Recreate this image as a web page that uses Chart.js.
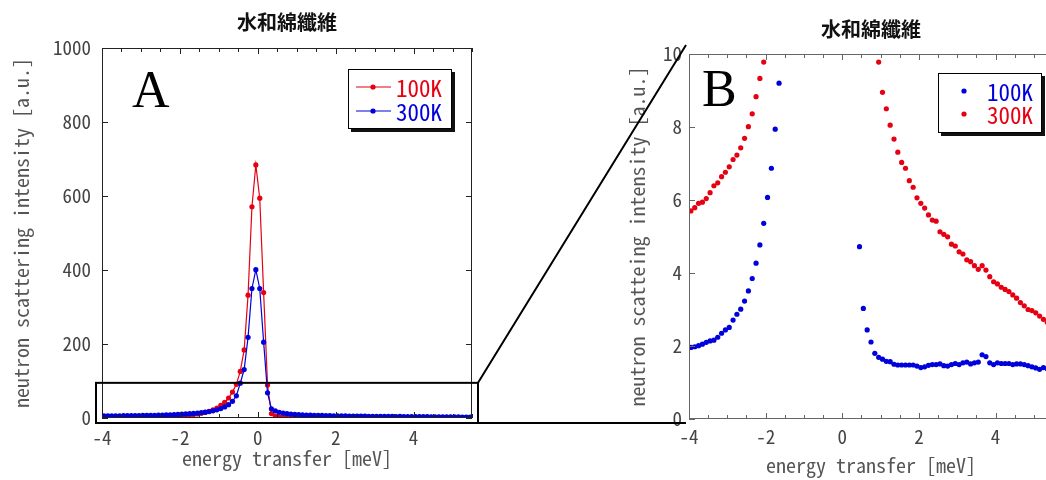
<!DOCTYPE html>
<html>
<head>
<meta charset="utf-8">
<script src="https://cdn.jsdelivr.net/npm/chart.js@4.4.1/dist/chart.umd.min.js"></script>
<style>
  html, body { margin: 0; padding: 0; background: #fff; overflow: hidden; width: 1046px; height: 480px; }
  #wrapA { position: absolute; left: 0; top: 0; width: 500px; height: 480px; }
  #wrapB { position: absolute; left: 560px; top: 0; width: 500px; height: 480px; }
  #overlay { position: absolute; left: 0; top: 0; pointer-events: none; }
</style>
</head>
<body>
<div id="wrapA"><canvas id="chartA"></canvas></div>
<div id="wrapB"><canvas id="chartB"></canvas></div>
<canvas id="overlay" width="1046" height="480"></canvas>
<script>
// --- data ---
const energy = [
  -3.95, -3.85, -3.75, -3.65, -3.55, -3.45, -3.35, -3.25, -3.15, -3.05,
  -2.95, -2.85, -2.75, -2.65, -2.55, -2.45, -2.35, -2.25, -2.15, -2.05,
  -1.95, -1.85, -1.75, -1.65, -1.55, -1.45, -1.35, -1.25, -1.15, -1.05,
  -0.95, -0.85, -0.75, -0.65, -0.55, -0.45, -0.35, -0.25, -0.15, -0.05,
  0.05, 0.15, 0.25, 0.35, 0.45, 0.55, 0.65, 0.75, 0.85, 0.95,
  1.05, 1.15, 1.25, 1.35, 1.45, 1.55, 1.65, 1.75, 1.85, 1.95,
  2.05, 2.15, 2.25, 2.35, 2.45, 2.55, 2.65, 2.75, 2.85, 2.95,
  3.05, 3.15, 3.25, 3.35, 3.45, 3.55, 3.65, 3.75, 3.85, 3.95,
  4.05, 4.15, 4.25, 4.35, 4.45, 4.55, 4.65, 4.75, 4.85, 4.95,
  5.05, 5.15, 5.25, 5.35, 5.45
];

const int100K = [
  1.96, 1.98, 2.01, 2.05, 2.10, 2.14, 2.16, 2.24, 2.35, 2.44,
  2.51, 2.71, 2.87, 3.01, 3.23, 3.51, 3.85, 4.27, 4.77, 5.36,
  6.07, 6.87, 7.94, 9.2, 10.8, 12.8, 15, 18, 22, 27,
  34, 42, 54, 70, 91, 126, 184, 332, 571, 684,
  594, 339, 89, 12, 4.72, 3.03, 2.44, 2.11, 1.8, 1.69,
  1.64, 1.58, 1.57, 1.5, 1.48, 1.48, 1.48, 1.48, 1.48, 1.45,
  1.41, 1.43, 1.47, 1.49, 1.49, 1.51, 1.46, 1.45, 1.49, 1.52,
  1.49, 1.54, 1.56, 1.51, 1.54, 1.56, 1.76, 1.71, 1.54, 1.49,
  1.54, 1.52, 1.52, 1.52, 1.49, 1.51, 1.51, 1.49, 1.46, 1.43,
  1.40, 1.36, 1.41, 1.38, 1.36
];

const int300K = [
  5.70, 5.79, 5.91, 5.94, 6.04, 6.2, 6.39, 6.47, 6.64, 6.76,
  6.91, 7.11, 7.23, 7.43, 7.69, 8.01, 8.36, 8.83, 9.33, 9.78,
  10.3, 10.9, 11.6, 12.4, 13.3, 14.4, 15.7, 17.3, 19.3, 22,
  25.5, 30, 36, 45, 60, 94, 131, 218, 350, 401,
  350, 205, 68, 25, 19, 15.5, 13.2, 11.8, 10.7, 9.78,
  8.95, 8.5, 8.05, 7.67, 7.31, 7.03, 6.87, 6.53, 6.35, 6.06,
  5.91, 5.78, 5.59, 5.45, 5.42, 5.13, 5.06, 4.99, 4.79, 4.74,
  4.58, 4.52, 4.36, 4.31, 4.2, 4.1, 4.2, 4.08, 3.9, 3.76,
  3.7, 3.61, 3.55, 3.49, 3.4, 3.31, 3.19, 3.1, 3.0, 2.97,
  2.91, 2.82, 2.73, 2.65, 2.58
];

const seriesLabels = ['100K', '300K'];
const chartTitle = '水和綿纖維';
const xTitle = 'energy transfer [meV]';
const yTitleA = 'neutron scattering intensity [a.u.]';
const yTitleB = 'neutron scatteing intensity [a.u.]';

const RED = '#e60012';
const BLUE = '#0000dc';
const MONO = '"Noto Sans Mono CJK JP", "Liberation Mono", monospace';

Chart.defaults.font.family = MONO;
Chart.defaults.animation = false;

const toPoints = (ys) => energy.map((x, i) => ({ x: x, y: ys[i] }));

// frame, inward ticks, panel letter and boxed legend
const panelDecor = {
  id: 'panelDecor',
  afterDraw(chart, args, opts) {
    const { ctx, chartArea: a, scales } = chart;
    ctx.save();
    ctx.strokeStyle = opts.frameColor;
    ctx.lineWidth = 1;
    ctx.strokeRect(a.left + 0.5, a.top + 0.5, a.width - 1, a.height - 1);

    ctx.beginPath();
    scales.x.ticks.forEach(t => {
      const px = Math.round(scales.x.getPixelForValue(t.value)) + 0.5;
      const len = t.label !== '' ? opts.majorLen : opts.minorLen;
      ctx.moveTo(px, a.bottom); ctx.lineTo(px, a.bottom - len);
      ctx.moveTo(px, a.top); ctx.lineTo(px, a.top + len);
    });
    scales.y.ticks.forEach(t => {
      const py = Math.round(scales.y.getPixelForValue(t.value)) + 0.5;
      ctx.moveTo(a.left, py); ctx.lineTo(a.left + opts.majorLen, py);
      ctx.moveTo(a.right, py); ctx.lineTo(a.right - opts.majorLen, py);
    });
    ctx.stroke();

    // panel letter
    ctx.fillStyle = '#000';
    ctx.font = '52px "Liberation Serif", "Times New Roman", serif';
    ctx.textBaseline = 'alphabetic';
    ctx.fillText(opts.letter, a.left + opts.letterDx, a.top + opts.letterDy);

    // legend box with drop shadow
    const L = opts.legend;
    const bx = a.right - L.fromRight, by = a.top + L.fromTop;
    ctx.fillStyle = '#111';
    ctx.fillRect(bx + 3, by + 3, L.w, L.h);
    ctx.fillStyle = '#fff';
    ctx.fillRect(bx, by, L.w, L.h);
    ctx.strokeStyle = '#000';
    ctx.strokeRect(bx + 0.5, by + 0.5, L.w - 1, L.h - 1);

    ctx.font = '23px ' + MONO;
    ctx.textBaseline = 'middle';
    chart.data.datasets.forEach((ds, i) => {
      const ry = by + L.rows[i];
      ctx.strokeStyle = ds.borderColor;
      ctx.fillStyle = ds.backgroundColor;
      if (L.line) {
        ctx.lineWidth = 1.2;
        ctx.beginPath();
        ctx.moveTo(bx + L.lineFrom, ry); ctx.lineTo(bx + L.lineTo, ry);
        ctx.stroke();
      }
      ctx.beginPath();
      ctx.arc(bx + L.dotX, ry, 2.6, 0, Math.PI * 2);
      ctx.fill();
      ctx.fillText(ds.label, bx + L.textX, ry + 1);
    });
    ctx.restore();
  }
};

function xAxis(height, tickPad, titlePadBottom) {
  return {
    type: 'linear', min: -4, max: 5.5,
    grid: { display: false, drawTicks: false },
    border: { display: false },
    ticks: {
      stepSize: 0.5, autoSkip: false, maxRotation: 0, padding: tickPad,
      color: '#444', font: { size: 19 },
      callback: v => (v % 2 === 0 ? String(v) : '')
    },
    title: { display: true, text: xTitle, color: '#555', font: { size: 20 },
             padding: { top: 0, bottom: titlePadBottom } },
    afterFit: s => { s.height = height; }
  };
}

function yAxis(max, step, width, tickPad, text) {
  return {
    min: 0, max: max,
    grid: { display: false, drawTicks: false },
    border: { display: false },
    ticks: { stepSize: step, padding: tickPad, color: '#444', font: { size: 19 },
             callback: v => String(v) },
    title: { display: true, text: text, color: '#555', font: { size: 20 },
             padding: { top: 4, bottom: 0 } },
    afterFit: s => { s.width = width; }
  };
}

// --- Chart A: full range, lines with markers ---
const chartA = new Chart(document.getElementById('chartA'), {
  type: 'line',
  data: {
    datasets: [
      { label: seriesLabels[0], data: toPoints(int100K), borderColor: RED, backgroundColor: RED,
        borderWidth: 1.2, pointRadius: 2.6, pointBorderWidth: 0, order: 1 },
      { label: seriesLabels[1], data: toPoints(int300K), borderColor: BLUE, backgroundColor: BLUE,
        borderWidth: 1.2, pointRadius: 2.6, pointBorderWidth: 0, order: 0 }
    ]
  },
  options: {
    responsive: true, maintainAspectRatio: false,
    layout: { padding: { left: 5, right: 28, top: 0, bottom: 0 } },
    scales: { x: xAxis(62, 8, 10), y: yAxis(1000, 200, 97, 11, yTitleA) },
    plugins: {
      legend: { display: false },
      tooltip: { enabled: false },
      title: { display: true, text: chartTitle, fullSize: false, color: '#111',
               font: { family: '"Noto Sans CJK JP", sans-serif', size: 20, weight: 'bold', lineHeight: 1.2 },
               padding: { top: 10, bottom: 14 } },
      panelDecor: {
        frameColor: '#222', majorLen: 6, minorLen: 4, letter: 'A', letterDx: 30, letterDy: 59,
        legend: { fromRight: 124, fromTop: 21, w: 104, h: 60, rows: [18, 42], line: true,
                  lineFrom: 8, lineTo: 43, dotX: 25, textX: 48 }
      }
    }
  },
  plugins: [panelDecor]
});

// --- Chart B: zoom on 0..10, markers only ---
const chartB = new Chart(document.getElementById('chartB'), {
  type: 'line',
  data: {
    datasets: [
      { label: seriesLabels[0], data: toPoints(int100K), borderColor: BLUE, backgroundColor: BLUE,
        showLine: false, pointRadius: 2.6, pointBorderWidth: 0 },
      { label: seriesLabels[1], data: toPoints(int300K), borderColor: RED, backgroundColor: RED,
        showLine: false, pointRadius: 2.6, pointBorderWidth: 0 }
    ]
  },
  options: {
    responsive: true, maintainAspectRatio: false,
    layout: { padding: { left: 61, right: 7, top: 0, bottom: 0 } },
    scales: { x: xAxis(61, 6, 3), y: yAxis(10, 2, 68, 7, yTitleB) },
    plugins: {
      legend: { display: false },
      tooltip: { enabled: false },
      title: { display: true, text: chartTitle, fullSize: false, color: '#111',
               font: { family: '"Noto Sans CJK JP", sans-serif', size: 20, weight: 'bold', lineHeight: 1.2 },
               padding: { top: 17, bottom: 13 } },
      panelDecor: {
        frameColor: '#666', majorLen: 6, minorLen: 4, letter: 'B', letterDx: 13, letterDy: 52,
        legend: { fromRight: 115, fromTop: 19, w: 104, h: 60, rows: [18, 41], line: false,
                  dotX: 26, textX: 49 }
      }
    }
  },
  plugins: [panelDecor]
});

// --- zoom box on A and connector lines to B ---
function drawConnector() {
  const ctx = document.getElementById('overlay').getContext('2d');
  const a = chartA.chartArea, b = chartB.chartArea;
  const offB = document.getElementById('wrapB').offsetLeft;
  const left = a.left - 6, right = a.right + 6;
  const top = chartA.scales.y.getPixelForValue(95), bottom = a.bottom + 5;
  ctx.strokeStyle = '#000';
  ctx.lineWidth = 2;
  ctx.strokeRect(left, top, right - left, bottom - top);
  ctx.beginPath();
  ctx.moveTo(right, top); ctx.lineTo(offB + b.left - 3, b.top - 9);
  ctx.moveTo(right, bottom); ctx.lineTo(offB + b.left - 3, bottom);
  ctx.stroke();
}
drawConnector();
</script>
</body>
</html>
